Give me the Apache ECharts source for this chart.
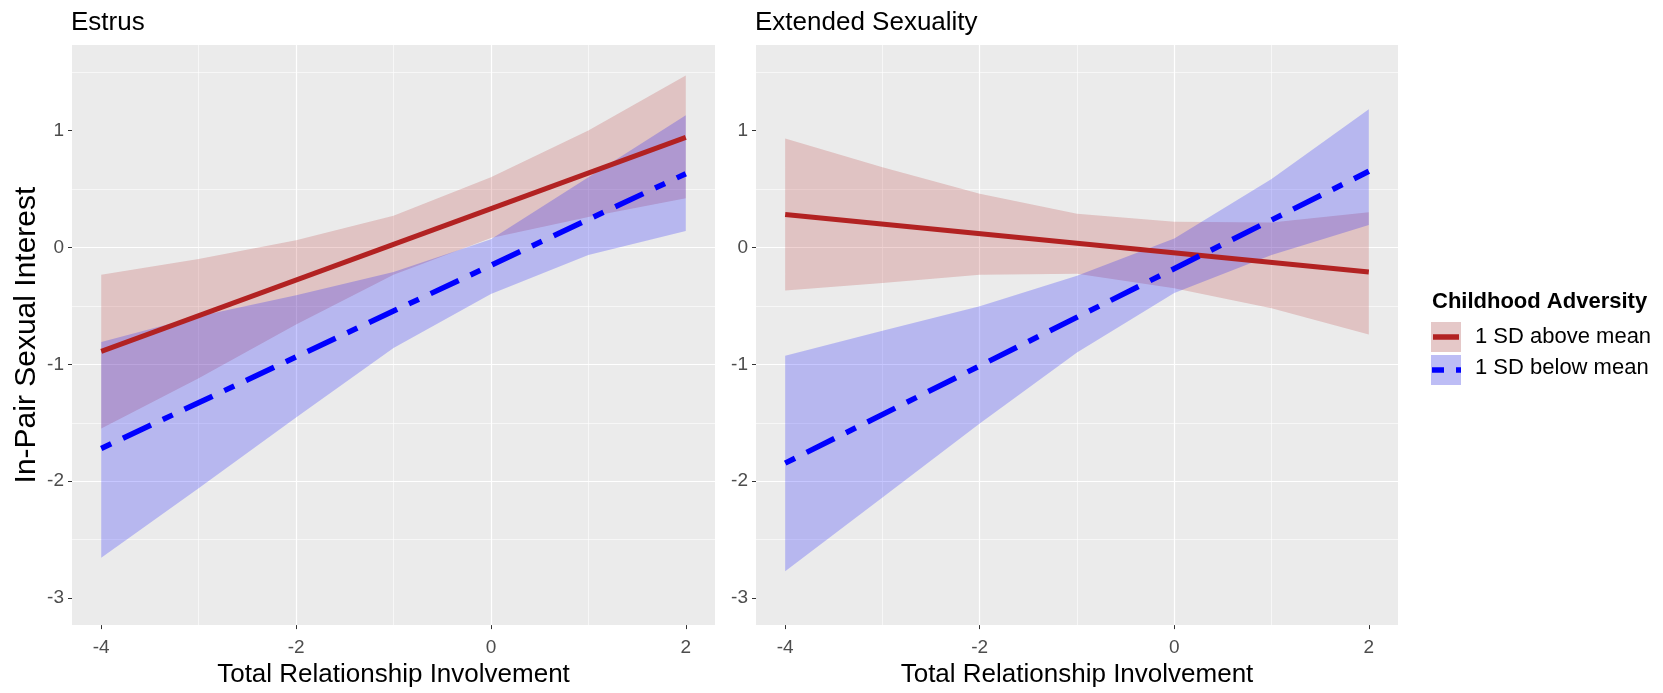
<!DOCTYPE html>
<html>
<head>
<meta charset="utf-8">
<title>In-Pair Sexual Interest by Total Relationship Involvement</title>
<script src="https://cdn.jsdelivr.net/npm/echarts@6/dist/echarts.min.js"></script>
<style>
  html, body { margin: 0; padding: 0; background: #ffffff; }
  #chart { width: 1663px; height: 693px; }
</style>
</head>
<body>
<div id="chart"></div>
<script>
// Predictor values at which the confidence bands were evaluated
const xPts = [-4, -3, -2, -1, 0, 1, 2];
// Endpoints of the fitted simple-slope lines
const xEnds = [-4, 2];

// Panel 1: Estrus
const estrusAboveFit   = [-0.89, 0.94];
const estrusBelowFit   = [-1.72, 0.63];
const estrusAboveUpper = [-0.235, -0.10, 0.06, 0.27, 0.60, 1.00, 1.47];
const estrusAboveLower = [-1.55, -1.12, -0.66, -0.235, 0.08, 0.26, 0.42];
const estrusBelowUpper = [-0.81, -0.59, -0.41, -0.21, 0.07, 0.60, 1.13];
const estrusBelowLower = [-2.655, -2.06, -1.455, -0.86, -0.40, -0.065, 0.14];

// Panel 2: Extended Sexuality
const extendedAboveFit   = [0.28, -0.21];
const extendedBelowFit   = [-1.845, 0.65];
const extendedAboveUpper = [0.93, 0.684, 0.458, 0.288, 0.218, 0.212, 0.30];
const extendedAboveLower = [-0.37, -0.305, -0.234, -0.226, -0.35, -0.52, -0.745];
const extendedBelowUpper = [-0.927, -0.714, -0.503, -0.243, 0.076, 0.585, 1.18];
const extendedBelowLower = [-2.77, -2.14, -1.507, -0.90, -0.39, -0.065, 0.19];

// Axis tick labels
const xTicks = [-4, -2, 0, 2];
const yTicks = [-3, -2, -1, 0, 1];

const panelTitles = ['Estrus', 'Extended Sexuality'];
const groupNames = ['1 SD above mean', '1 SD below mean'];
const legendTitle = 'Childhood Adversity';
const xName = 'Total Relationship Involvement';
const yName = 'In-Pair Sexual Interest';

const FONT = "'Liberation Sans', Arial, sans-serif";
const RED = '#B22222';
const BLUE = '#0000FF';
const RED_FILL = 'rgba(178,34,34,0.20)';
const BLUE_FILL = 'rgba(0,0,255,0.22)';
const BLUE_DASH = [11, 13, 31, 13];

const panels = [
  { above: estrusAboveFit, below: estrusBelowFit,
    aU: estrusAboveUpper, aL: estrusAboveLower, bU: estrusBelowUpper, bL: estrusBelowLower },
  { above: extendedAboveFit, below: extendedBelowFit,
    aU: extendedAboveUpper, aL: extendedAboveLower, bU: extendedBelowUpper, bL: extendedBelowLower }
];

const grids = [
  { left: 72, top: 45, width: 643, height: 585 },
  { left: 756, top: 45, width: 642, height: 585 }
].map(g => Object.assign(g, { show: true, backgroundColor: '#EBEBEB', borderWidth: 0 }));

function xAxisFor(i) {
  return {
    gridIndex: i, type: 'value', min: -4.3, max: 2.3, splitNumber: 3,
    name: xName, nameLocation: 'middle', nameGap: 32,
    nameTextStyle: { fontFamily: FONT, fontSize: 26, color: '#000000' },
    axisLine: { show: false, onZero: false },
    axisTick: { show: true, length: 4, customValues: xTicks, lineStyle: { color: '#333333', width: 1 } },
    axisLabel: { customValues: xTicks, margin: 13, fontFamily: FONT, fontSize: 19, color: '#4D4D4D' },
    splitLine: { show: true, showMinLine: false, showMaxLine: false, lineStyle: { color: '#FFFFFF', width: 1.2 } },
    minorTick: { show: false, splitNumber: 2 },
    minorSplitLine: { show: true, lineStyle: { color: '#FFFFFF', width: 0.6 } }
  };
}

function yAxisFor(i) {
  const ax = {
    gridIndex: i, type: 'value', min: -3.23, max: 1.73, splitNumber: 5,
    axisLine: { show: false, onZero: false },
    axisTick: { show: true, length: 4, customValues: yTicks, lineStyle: { color: '#333333', width: 1 } },
    axisLabel: { customValues: yTicks, margin: 8, fontFamily: FONT, fontSize: 19, color: '#4D4D4D' },
    splitLine: { show: true, showMinLine: false, showMaxLine: false, lineStyle: { color: '#FFFFFF', width: 1.2 } },
    minorTick: { show: false, splitNumber: 2 },
    minorSplitLine: { show: true, lineStyle: { color: '#FFFFFF', width: 0.6 } }
  };
  if (i === 0) {
    Object.assign(ax, {
      name: yName, nameLocation: 'middle', nameRotate: 90, nameGap: 30,
      nameTextStyle: { fontFamily: FONT, fontSize: 30, color: '#000000' }
    });
  }
  return ax;
}

// Confidence band as a filled polygon between upper and lower limits
function bandSeries(i, upper, lower, fill) {
  return {
    type: 'custom', xAxisIndex: i, yAxisIndex: i, silent: true,
    data: [[xPts[0], upper[0]]],
    renderItem: function (params, api) {
      const top = xPts.map((x, k) => api.coord([x, upper[k]]));
      const bottom = xPts.map((x, k) => api.coord([x, lower[k]])).reverse();
      return { type: 'polygon', shape: { points: top.concat(bottom) }, style: { fill: fill, stroke: null } };
    }
  };
}

function lineSeries(i, name, values, color, width, dash) {
  return {
    type: 'line', name: name, xAxisIndex: i, yAxisIndex: i, silent: true,
    showSymbol: false, symbol: 'none',
    data: xEnds.map((x, k) => [x, values[k]]),
    lineStyle: { color: color, width: width, type: dash || 'solid', cap: 'butt' },
    z: 3
  };
}

const series = [];
panels.forEach((p, i) => {
  series.push(bandSeries(i, p.aU, p.aL, RED_FILL));
  series.push(bandSeries(i, p.bU, p.bL, BLUE_FILL));
  series.push(lineSeries(i, groupNames[0], p.above, RED, 5));
  series.push(lineSeries(i, groupNames[1], p.below, BLUE, 5.5, BLUE_DASH));
});

// Legend: keys with band fill plus line sample, drawn beside the panels
const LX = 1431, LY1 = 322, LY2 = 355, KEY = 30;
const legendGraphics = [
  { type: 'text', left: 1432, top: 291, style: { text: legendTitle, font: "bold 22px " + FONT, fill: '#000000' } },
  { type: 'rect', shape: { x: LX, y: LY1, width: KEY, height: KEY }, style: { fill: '#F2F2F2' } },
  { type: 'rect', shape: { x: LX, y: LY1, width: KEY, height: KEY }, style: { fill: RED_FILL } },
  { type: 'line', shape: { x1: LX + 2, y1: LY1 + 15, x2: LX + KEY - 2, y2: LY1 + 15 }, style: { stroke: RED, lineWidth: 5.5 } },
  { type: 'rect', shape: { x: LX, y: LY2, width: KEY, height: KEY }, style: { fill: '#F2F2F2' } },
  { type: 'rect', shape: { x: LX, y: LY2, width: KEY, height: KEY }, style: { fill: BLUE_FILL } },
  { type: 'line', shape: { x1: LX + 1, y1: LY2 + 15, x2: LX + KEY, y2: LY2 + 15 }, style: { stroke: BLUE, lineWidth: 5.5, lineDash: [12, 12] } },
  { type: 'text', left: 1475, top: 326, style: { text: groupNames[0], font: "22px " + FONT, fill: '#000000' } },
  { type: 'text', left: 1475, top: 357, style: { text: groupNames[1], font: "22px " + FONT, fill: '#000000' } }
];

const option = {
  backgroundColor: '#FFFFFF',
  animation: false,
  title: [
    { text: panelTitles[0], left: 71, top: 10, padding: 0, textStyle: { fontFamily: FONT, fontSize: 26, fontWeight: 'normal', color: '#000000' } },
    { text: panelTitles[1], left: 755, top: 10, padding: 0, textStyle: { fontFamily: FONT, fontSize: 26, fontWeight: 'normal', color: '#000000' } }
  ],
  grid: grids,
  xAxis: [xAxisFor(0), xAxisFor(1)],
  yAxis: [yAxisFor(0), yAxisFor(1)],
  series: series,
  graphic: legendGraphics
};

const chart = echarts.init(document.getElementById('chart'));
chart.setOption(option);
</script>
</body>
</html>
